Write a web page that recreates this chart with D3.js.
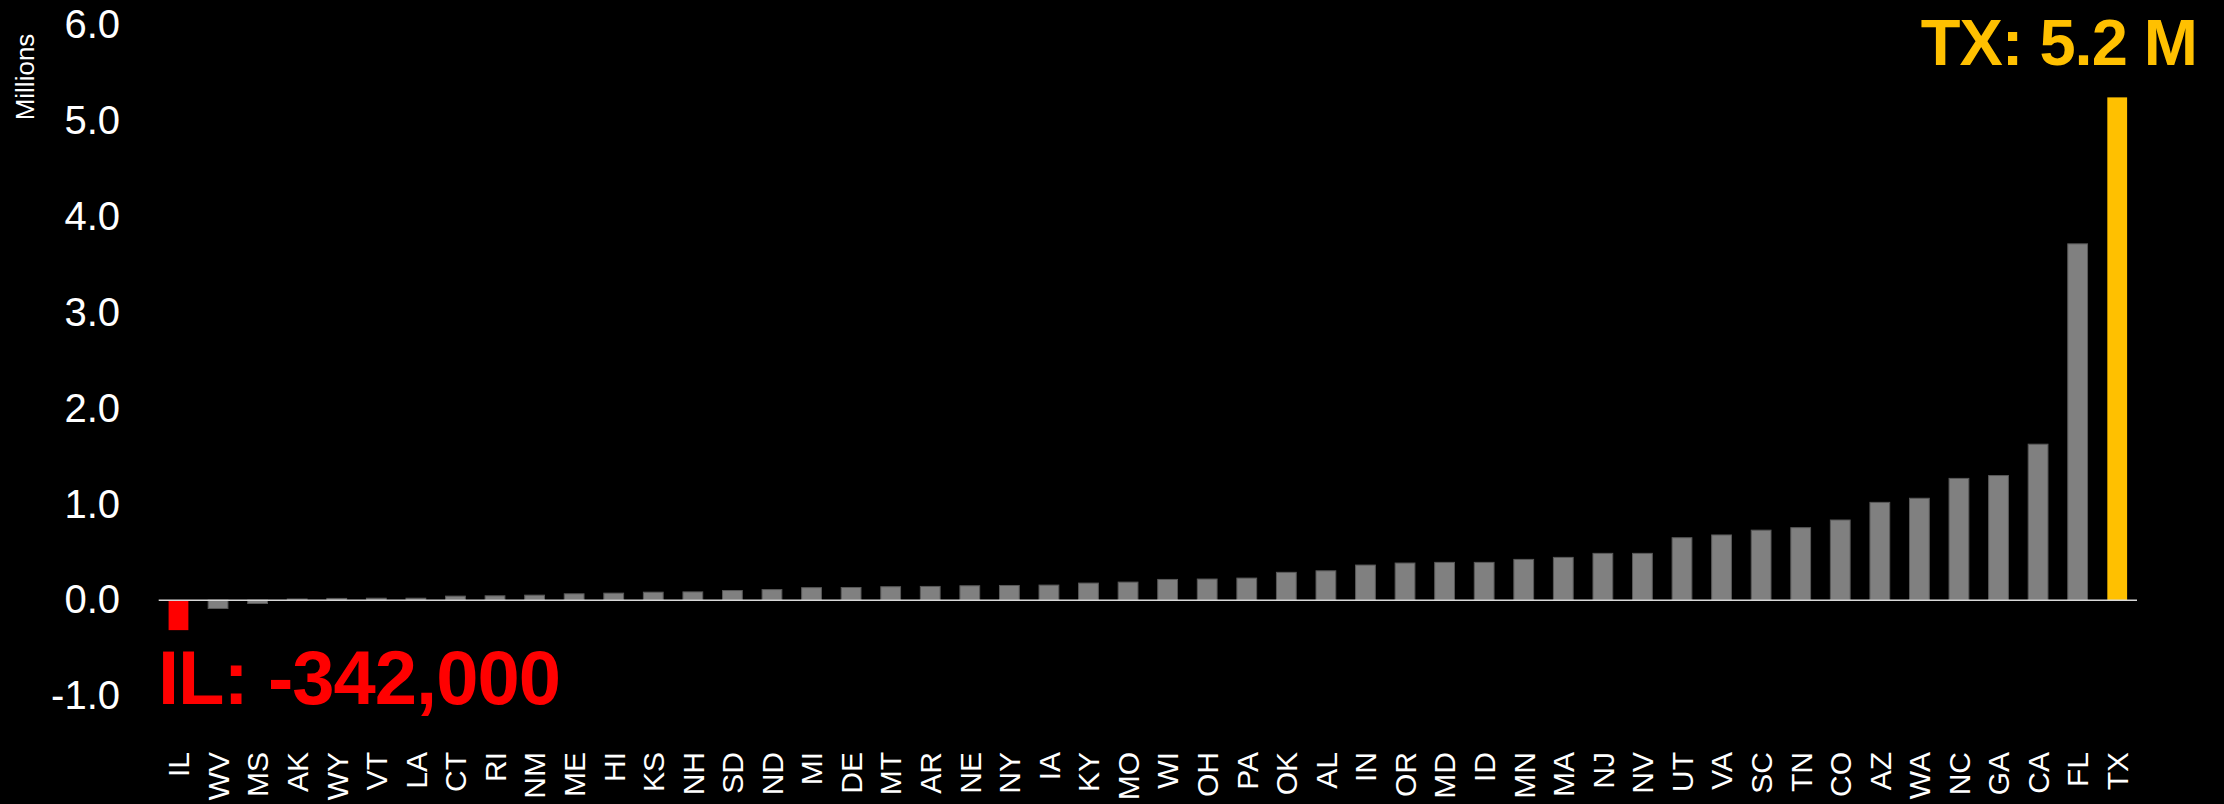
<!DOCTYPE html>
<html>
<head>
<meta charset="utf-8">
<script src="https://cdn.jsdelivr.net/npm/d3@7"></script>
<style>
  html, body { margin: 0; padding: 0; background: #000; }
  svg { display: block; }
  text { font-family: "Liberation Sans", Arial, sans-serif; }
</style>
</head>
<body>
<svg id="chart" width="2224" height="804"></svg>
<script>
// ---- data ----
const states = ["IL","WV","MS","AK","WY","VT","LA","CT","RI","NM","ME","HI","KS","NH","SD","ND","MI","DE","MT","AR","NE","NY","IA","KY","MO","WI","OH","PA","OK","AL","IN","OR","MD","ID","MN","MA","NJ","NV","UT","VA","SC","TN","CO","AZ","WA","NC","GA","CA","FL","TX"];
const change = [-0.313,-0.087,-0.035,0.012,0.018,0.02,0.02,0.042,0.045,0.052,0.066,0.073,0.083,0.086,0.10,0.11,0.13,0.132,0.14,0.143,0.15,0.153,0.157,0.178,0.188,0.216,0.22,0.23,0.29,0.306,0.366,0.387,0.394,0.394,0.425,0.446,0.488,0.488,0.651,0.68,0.73,0.756,0.836,1.02,1.063,1.27,1.30,1.627,3.717,5.245];
const yTicks = [-1, 0, 1, 2, 3, 4, 5, 6];
const yAxisTitle = "Millions";
const highLabel = "TX: 5.2 M";
const lowLabel = "IL: -342,000";

// ---- layout ----
const svg = d3.select("#chart");
const x = d3.scaleBand().domain(states).range([158.7, 2137]).paddingInner(0.5).paddingOuter(0.25);
const y = d3.scaleLinear().domain([-1, 6]).range([696, 25]);

const colorFor = s => s === "TX" ? "#FFC000" : (s === "IL" ? "#FF0000" : "#808080");

// bars
svg.append("g").selectAll("rect")
  .data(states.map((s, i) => ({ s, v: change[i] })))
  .join("rect")
  .attr("x", d => x(d.s))
  .attr("width", x.bandwidth())
  .attr("y", d => y(Math.max(0, d.v)))
  .attr("height", d => Math.abs(y(d.v) - y(0)))
  .attr("fill", d => colorFor(d.s))
  .attr("stroke", d => (d.s === "TX" || d.s === "IL") ? "none" : "#595959")
  .attr("stroke-width", 1);

// zero line
svg.append("line")
  .attr("x1", x.range()[0]).attr("x2", x.range()[1])
  .attr("y1", y(0)).attr("y2", y(0))
  .attr("stroke", "#D9D9D9").attr("stroke-width", 1.5);

// y axis
const fmt = d3.format(".1f");
const yAxis = svg.append("g")
  .attr("transform", "translate(160,0)")
  .call(d3.axisLeft(y).tickValues(yTicks).tickFormat(d => fmt(d).replace("\u2212", "-")).tickSize(0).tickPadding(40));
yAxis.select(".domain").remove();
yAxis.selectAll("text")
  .attr("fill", "#fff")
  .style("font-size", "40px")
  .style("font-family", "'Liberation Sans', Arial, sans-serif");

// y axis title
svg.append("text")
  .attr("transform", "translate(25,77) rotate(-90)")
  .attr("text-anchor", "middle")
  .attr("dy", "0.36em")
  .attr("fill", "#fff")
  .style("font-size", "26px")
  .text(yAxisTitle);

// x axis labels
const xAxis = svg.append("g")
  .attr("transform", "translate(0,752)")
  .call(d3.axisBottom(x).tickSize(0));
xAxis.select(".domain").remove();
xAxis.selectAll("text")
  .attr("transform", "rotate(-90)")
  .attr("x", 0).attr("y", 0).attr("dy", "0.36em")
  .attr("text-anchor", "end")
  .attr("fill", "#fff")
  .style("font-size", "30px")
  .style("font-family", "'Liberation Sans', Arial, sans-serif");

// annotations
svg.append("text")
  .attr("x", 2197).attr("y", 65)
  .attr("text-anchor", "end")
  .attr("fill", "#FFC000")
  .style("font-size", "65px").style("font-weight", "bold")
  .style("letter-spacing", "-1px")
  .text(highLabel);

svg.append("text")
  .attr("x", 158).attr("y", 704)
  .attr("fill", "#FF0000")
  .style("font-size", "76px").style("font-weight", "bold")
  .style("letter-spacing", "-1px")
  .text(lowLabel);
</script>
</body>
</html>
